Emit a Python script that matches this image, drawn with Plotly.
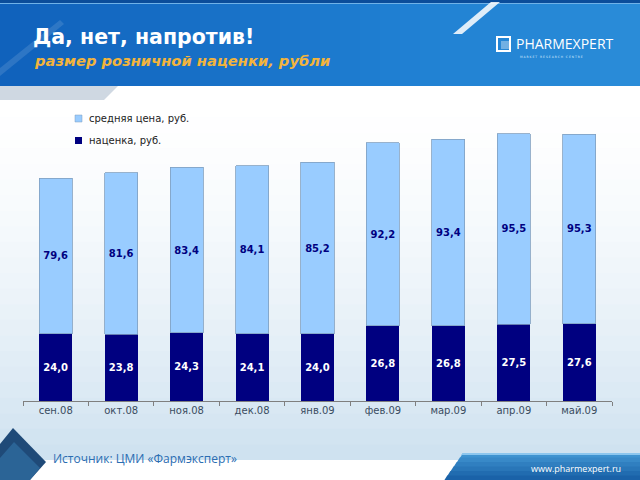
import plotly.graph_objects as go

months = ["сен.08", "окт.08", "ноя.08", "дек.08", "янв.09", "фев.09", "мар.09", "апр.09", "май.09"]
avg_price = [79.6, 81.6, 83.4, 84.1, 85.2, 92.2, 93.4, 95.5, 95.3]
markup = [24.0, 23.8, 24.3, 24.1, 24.0, 26.8, 26.8, 27.5, 27.6]
legend_labels = ["средняя цена, руб.", "наценка, руб."]

W, H = 640, 480
ML, MR, MT, MB = 23, 28, 121, 79
PW, PH = W - ML - MR, H - MT - MB


def px(x):
    return (x - ML) / PW


def py(y):
    return (H - MB - y) / PH


def hexmix(c1, c2, t):
    a = [int(c1[i:i + 2], 16) for i in (1, 3, 5)]
    b = [int(c2[i:i + 2], 16) for i in (1, 3, 5)]
    return "#" + "".join(f"{round(a[k] + (b[k] - a[k]) * t):02x}" for k in range(3))


def poly(pts, color, opacity=1.0, layer="below"):
    path = "M " + " L ".join(f"{px(x):.5f},{py(y):.5f}" for x, y in pts) + " Z"
    return dict(type="path", xref="paper", yref="paper", path=path,
                fillcolor=color, line=dict(width=0), opacity=opacity, layer=layer)


def rect(x0, y0, x1, y1, color, opacity=1.0):
    return dict(type="rect", xref="paper", yref="paper", x0=px(x0), x1=px(x1),
                y0=py(y1), y1=py(y0), fillcolor=color, line=dict(width=0),
                opacity=opacity, layer="below")


shapes = []
# body vertical gradient
n = 24
for i in range(n):
    y0 = 86 + (460 - 86) * i / n
    y1 = 86 + (460 - 86) * (i + 1) / n
    t = (i / (n - 1)) ** 1.6
    shapes.append(rect(0, y0, W, y1 + 0.5, hexmix("#ffffff", "#cfe2f0", t)))
shapes.append(rect(0, 460, W, H, "#ffffff"))
# header horizontal gradient
n = 32
for i in range(n):
    x0 = W * i / n
    x1 = W * (i + 1) / n
    t = i / (n - 1)
    c = hexmix("#1062bc", "#1f7fd2", min(1, t * 1.6)) if t < 0.6 else hexmix("#1f7fd2", "#2a8cd8", (t - 0.6) / 0.4)
    shapes.append(rect(x0, 0, x1 + 0.5, 86, c))
shapes.append(rect(0, 0, W, 3, "#0b4d9a"))
shapes.append(rect(0, 3, W, 4, "#6fb2e8"))
shapes.append(poly([(0, 68), (60, 20), (64, 24), (0, 76)], "#ffffff", 0.12))
shapes.append(poly([(453, 34), (462, 34), (500, 2), (491, 2)], "#ffffff", 0.85))
# under-header grey strip
shapes.append(poly([(0, 86), (118, 86), (104, 100), (0, 100)], "#cfd8e2"))
# logo icon
shapes.append(dict(type="rect", xref="paper", yref="paper", x0=px(497), x1=px(510),
                   y0=py(51), y1=py(37), fillcolor="rgba(0,0,0,0)",
                   line=dict(color="#ffffff", width=2), layer="above"))
shapes.append(poly([(501, 41), (509, 41), (509, 49), (501, 49)], "#ffffff", 0.35, "above"))
# bottom-left dark corner
shapes.append(poly([(0, 444), (13, 428), (46, 462), (30, 480), (0, 480)], "#1f4a78"))
shapes.append(poly([(0, 458), (14, 442), (40, 468), (30, 480), (0, 480)], "#2e6a9e", 0.8))
# bottom-right blue band
n = 6
for i in range(n):
    y0 = 453 + 27 * i / n
    y1 = 453 + 27 * (i + 1) / n
    xl0 = 463 - (y0 - 453) * 0.7
    xl1 = 463 - (y1 - 453) * 0.7
    shapes.append(poly([(xl0, y0), (W, y0), (W, y1 + 0.5), (xl1, y1 + 0.5)],
                       hexmix("#3f93d0", "#1a62a8", i / (n - 1))))
shapes.append(poly([(463, 453), (W, 453), (W, 455), (461, 455)], "#8cc6ee"))

# manual legend squares
shapes.append(dict(type="rect", xref="paper", yref="paper", x0=px(75), x1=px(82),
                   y0=py(122), y1=py(115), fillcolor="#99ccff",
                   line=dict(color="#7f9fbf", width=0.5), layer="above"))
shapes.append(dict(type="rect", xref="paper", yref="paper", x0=px(75), x1=px(82),
                   y0=py(144), y1=py(137), fillcolor="#000080",
                   line=dict(width=0), layer="above"))

lab_font = dict(family="DejaVu Sans", size=10)

fig = go.Figure()
fig.add_trace(go.Bar(
    x=months, y=markup, name=legend_labels[1],
    marker=dict(color="#000080", line=dict(width=0)),
    texttemplate="<b>%{y:.1f}</b>", textposition="inside", insidetextanchor="middle",
    textangle=0, textfont=dict(color="#ffffff", **lab_font), showlegend=False,
))
fig.add_trace(go.Bar(
    x=months, y=[p - m for p, m in zip(avg_price, markup)], name=legend_labels[0],
    customdata=avg_price,
    marker=dict(color="#99ccff", line=dict(color="#7f9fbf", width=0.8)),
    texttemplate="<b>%{customdata:.1f}</b>", textposition="inside", insidetextanchor="middle",
    textangle=0, textfont=dict(color="#000080", **lab_font), showlegend=False,
))

annotations = [
    dict(text="<b>Да, нет, напротив!</b>", x=px(31), y=py(37), xanchor="left", yanchor="middle",
         font=dict(family="DejaVu Sans", size=20.5, color="#ffffff"), showarrow=False,
         xref="paper", yref="paper"),
    dict(text="<b><i>размер розничной наценки, рубли</i></b>", x=px(32), y=py(60),
         xanchor="left", yanchor="middle",
         font=dict(family="DejaVu Sans", size=14.7, color="#f2b43c"), showarrow=False,
         xref="paper", yref="paper"),
    dict(text="PHARMEXPERT", x=px(514), y=py(43), xanchor="left", yanchor="middle",
         font=dict(family="Open Sans", size=14, color="#ffffff"), showarrow=False,
         xref="paper", yref="paper"),
    dict(text="M A R K E T   R E S E A R C H   C E N T R E", x=px(518), y=py(57), xanchor="left",
         yanchor="middle", font=dict(family="DejaVu Sans", size=3, color="#dcecff"),
         showarrow=False, xref="paper", yref="paper"),
    dict(text=legend_labels[0], x=px(87), y=py(118), xanchor="left", yanchor="middle",
         font=dict(family="DejaVu Sans", size=10, color="#222222"), showarrow=False,
         xref="paper", yref="paper"),
    dict(text=legend_labels[1], x=px(87), y=py(140), xanchor="left", yanchor="middle",
         font=dict(family="DejaVu Sans", size=10, color="#222222"), showarrow=False,
         xref="paper", yref="paper"),
    dict(text="Источник: ЦМИ «Фармэксперт»", x=px(51), y=py(458), xanchor="left",
         yanchor="middle", font=dict(family="Open Sans", size=12, color="#2a6db2"),
         showarrow=False, xref="paper", yref="paper"),
    dict(text="www.pharmexpert.ru", x=px(623), y=py(468), xanchor="right", yanchor="middle",
         font=dict(family="Open Sans", size=9, color="#ffffff"), showarrow=False,
         xref="paper", yref="paper"),
]

fig.update_layout(
    width=W, height=H,
    margin=dict(l=ML, r=MR, t=MT, b=MB, pad=0),
    barmode="stack", bargap=0.495,
    separators=", ",
    paper_bgcolor="#f4f8fc", plot_bgcolor="rgba(0,0,0,0)",
    shapes=shapes, annotations=annotations,
    showlegend=False,
    xaxis=dict(type="category", showline=True, linecolor="#7f7f7f", linewidth=1,
               ticks="outside", tickson="boundaries", ticklen=4, tickcolor="#7f7f7f",
               showgrid=False, tickfont=dict(family="DejaVu Sans", size=10, color="#3a4c60"),
               range=[-0.5, 8.5]),
    yaxis=dict(visible=False, range=[0, 100]),
)

fig.write_html("out.html", config={"displayModeBar": False},
               post_script="document.body.style.margin='0';document.body.style.overflow='hidden';")
